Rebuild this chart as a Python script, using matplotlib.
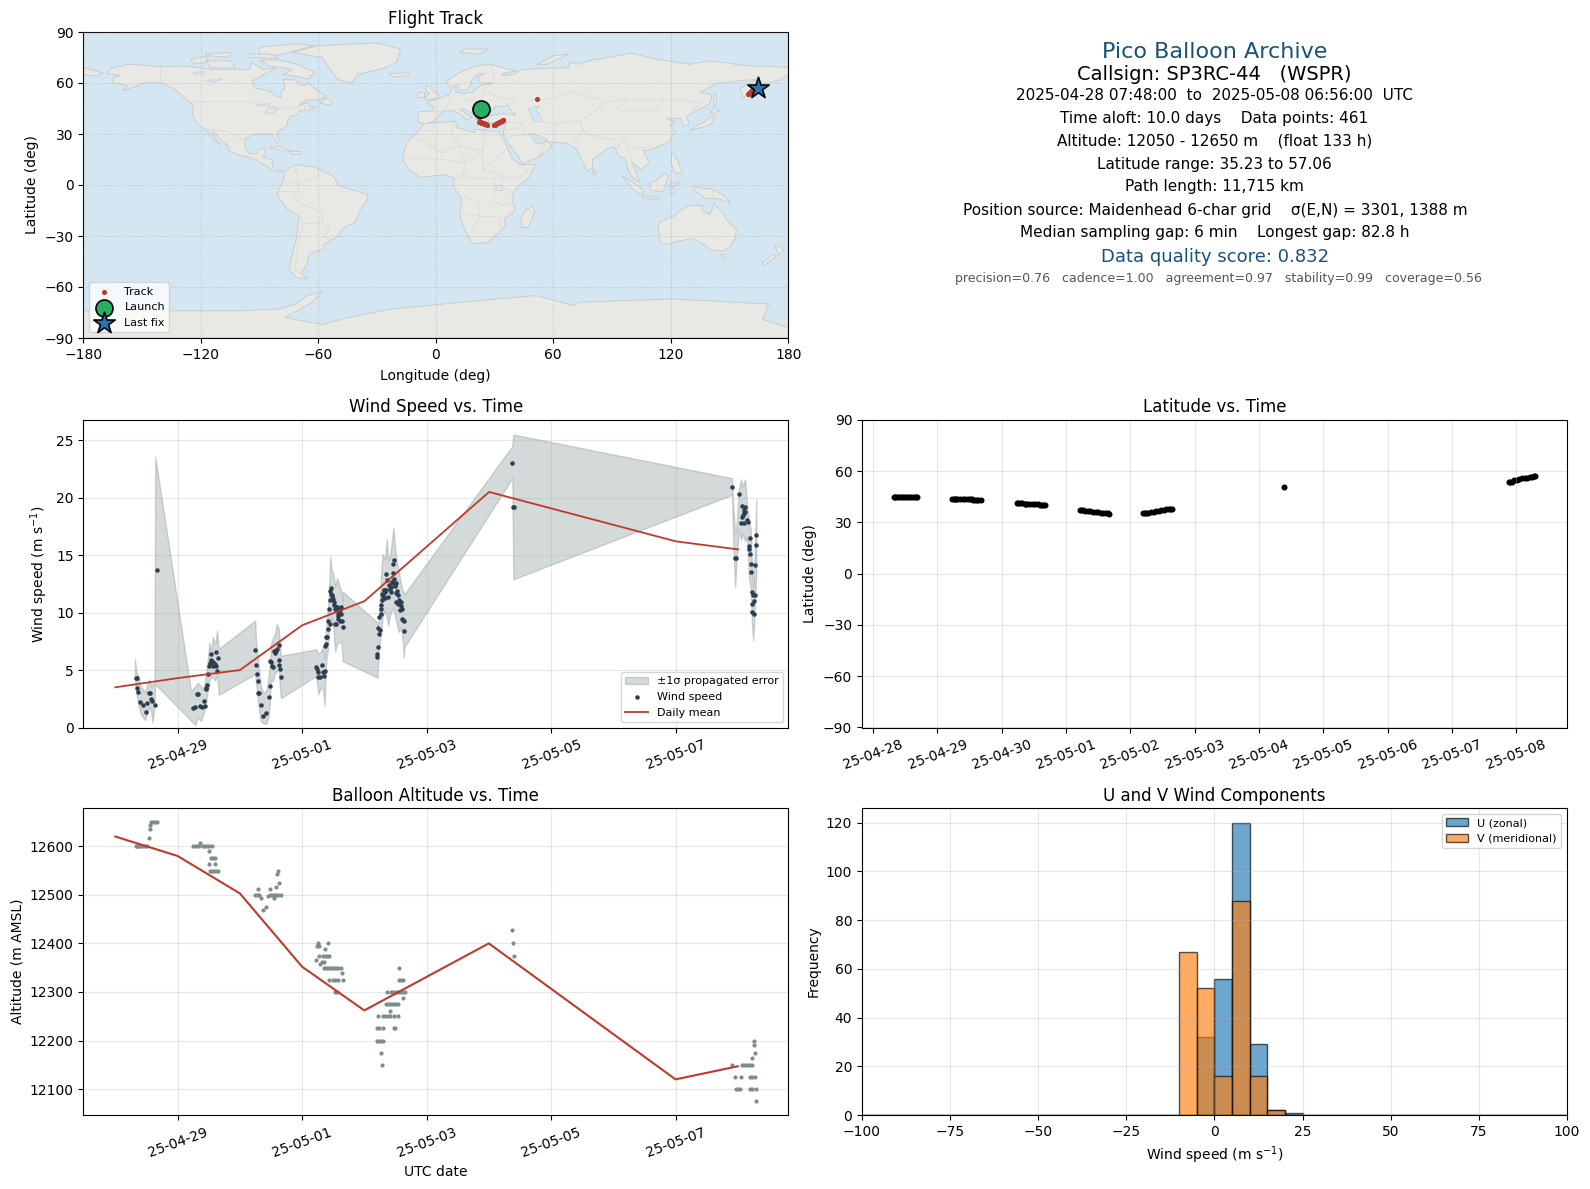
import matplotlib
matplotlib.use('Agg')
import matplotlib.pyplot as plt
import matplotlib.dates as mdates
import numpy as np
from datetime import datetime

# all times are days after 2025-04-28 00:00 UTC
mean_day = [0, 1, 2, 3, 4, 6, 9, 10]
mean_wind = [3.5, 4.3, 5.0, 8.9, 11.0, 20.5, 16.2, 15.5]
mean_alt = [12620, 12580, 12503, 12352, 12262, 12400, 12120, 12147]

wind_day = [0.325, .346, .340, .357, .394, .437, .501, .485, .534, .555, .571, .592, .630, .662,
            1.241, 1.273, 1.306, 1.332, 1.359, 1.391, 1.424, 1.434, 1.456, 1.466, 1.461, 1.488, 1.509,
            1.542, 1.536, 1.552, 1.574, 1.611, 1.617, 1.643, 1.638, 1.595, 1.525, 1.56,
            2.244, 2.260, 2.271, 2.287, 2.298, 2.314, 2.335, 2.378, 2.426, 2.464, 2.480, 2.485, 2.501,
            2.507, 2.528, 2.544, 2.560, 2.582, 2.598, 2.625, 2.635, 2.635, 2.641, 2.657,
            3.214, 3.236, 3.257, 3.247, 3.279, 3.316, 3.332, 3.359, 3.343, 3.370, 3.386, 3.381, 3.391,
            3.408, 3.418, 3.429, 3.440, 3.44, 3.45, 3.466, 3.477, 3.493, 3.515, 3.536, 3.558, 3.579,
            3.617, 3.547, 3.525, 3.601, 3.633, 3.654, 3.574, 3.627, 3.558, 3.46, 3.485, 3.505, 3.53,
            3.59, 3.61, 3.568,
            4.201, 4.201, 4.217, 4.233, 4.223, 4.255, 4.233, 4.271, 4.265, 4.271, 4.287, 4.298, 4.287,
            4.308, 4.324, 4.340, 4.351, 4.362, 4.378, 4.405, 4.432, 4.421, 4.448, 4.458, 4.469, 4.458,
            4.485, 4.512, 4.512, 4.539, 4.512, 4.539, 4.566, 4.592, 4.576, 4.609, 4.598, 4.619, 4.635,
            4.635, 4.30, 4.315, 4.33, 4.39, 4.415, 4.44, 4.47, 4.495, 4.525, 4.55, 4.58,
            6.373, 6.389, 6.405,
            9.895, 9.949, 9.965, 10.008, 10.062, 10.105, 10.099, 10.088, 10.115, 10.072, 10.056, 10.142,
            10.153, 10.088, 10.040, 10.185, 10.282, 10.282, 10.169, 10.169, 10.185, 10.201, 10.265,
            10.201, 10.217, 10.244, 10.265, 10.249, 10.217, 10.228, 10.249]
wind_speed = [4.30, 4.30, 3.48, 3.13, 2.25, 2.0, 2.14, 1.38, 3.04, 3.04, 2.46, 2.32, 1.95, 13.75,
              1.68, 1.82, 2.90, 2.90, 1.85, 1.79, 2.35, 1.91, 3.37, 3.72, 3.48, 4.65, 5.38,
              6.40, 5.88, 5.67, 5.38, 6.55, 5.38, 6.05, 4.94, 5.5, 5.6, 5.7,
              6.75, 5.44, 4.65, 4.04, 2.99, 2.99, 1.94, 0.98, 1.24, 2.67, 3.57, 5.76, 5.67,
              5.38, 5.29, 6.63, 6.49, 6.69, 6.81, 7.19, 5.87, 5.44, 5.09, 4.42,
              5.29, 5.09, 4.86, 4.42, 4.42, 5.44, 4.80, 4.94, 4.45, 7.13, 7.27, 7.86, 7.91,
              8.59, 9.31, 10.34, 9.02, 11.06, 11.9, 12.17, 11.41, 11.21, 10.62, 10.48, 10.19, 9.9,
              10.48, 9.02, 9.02, 9.31, 9.31, 8.73, 9.45, 9.9, 10.48, 11.6, 11.5, 10.9, 10.3,
              10.0, 10.2, 9.7,
              6.11, 6.40, 6.98, 8.15, 8.67, 8.50, 9.61, 9.84, 10.34, 10.63, 11.06, 11.36, 11.65,
              11.94, 11.79, 11.94, 13.40, 12.81, 11.36, 12.08, 12.23, 11.79, 12.67, 13.45, 14.62, 14.21,
              12.52, 12.58, 11.71, 11.5, 10.92, 10.71, 10.83, 10.92, 10.25, 10.34, 9.46, 9.37, 9.26,
              8.38, 11.5, 12.0, 11.3, 12.4, 12.3, 12.7, 12.9, 12.3, 11.9, 11.1, 10.6,
              23.02, 19.23, 19.23,
              20.92, 14.71, 14.71, 20.31, 19.31, 19.17, 18.94, 18.70, 18.79, 18.50, 18.29, 18.06,
              17.92, 17.83, 17.77, 16.46, 16.72, 15.85, 15.79, 15.50, 15.06, 14.27, 14.18,
              13.57, 11.79, 11.50, 11.56, 11.01, 10.77, 10.07, 9.90]

band_day = [.314, .34, .367, .41, .48, .517, .544, .571, .598, .63, .64,
            1.214, 1.284, 1.32, 1.375, 1.413, 1.445, 1.483, 1.509, 1.536, 1.563, 1.606, 1.633, 1.66,
            2.244, 2.26, 2.29, 2.31, 2.335, 2.38, 2.43, 2.46, 2.48, 2.50, 2.53, 2.56, 2.59, 2.625, 2.64, 2.66,
            3.225, 3.26, 3.30, 3.33, 3.36, 3.38, 3.41, 3.43, 3.45, 3.47, 3.5, 3.53, 3.56, 3.6, 3.63, 3.65, 3.655,
            4.20, 4.21, 4.228, 4.265, 4.29, 4.33, 4.357, 4.38, 4.415, 4.464, 4.507, 4.55, 4.587, 4.614, 4.63, 4.64,
            6.373, 6.389,
            9.90, 9.92, 9.95, 9.976, 10.01, 10.045, 10.07, 10.11, 10.14, 10.17, 10.2, 10.22, 10.24, 10.26, 10.289]
band_high = [5.96, 4.8, 4.5, 3.6, 3.05, 3.9, 4.2, 3.6, 3.8, 3.9, 23.6,
             3.2, 3.6, 3.9, 3.6, 3.3, 4.2, 5.96, 7.4, 6.55, 7.86, 7.27, 8.44, 6.84,
             9.31, 7.3, 6.2, 4.7, 3.6, 3.0, 3.3, 4.5, 5.5, 7.3, 7.8, 8.1, 9.0, 8.6, 7.3, 6.25,
             6.8, 6.4, 6.6, 7.0, 6.0, 8.5, 10.2, 12.0, 14.85, 13.8, 13.3, 12.3, 13.0, 12.3, 11.8, 11.0, 11.8,
             9.17, 8.7, 9.3, 13.3, 15.1, 14.65, 16.4, 14.5, 15.1, 17.4, 14.8, 13.6, 12.5, 11.9, 11.75, 11.6,
             24.5, 25.5,
             21.7, 19.2, 16.9, 17.8, 20.8, 21.6, 21.0, 21.6, 19.5, 18.1, 17.2, 14.0, 12.2, 14.6, 19.9]
band_low = [4.36, 2.9, 2.03, 1.15, .63, 1.44, 1.73, 1.44, .42, 2.03, 3.78,
            .6, .22, .86, .57, 1.15, 1.73, 3.19, 4.07, 4.36, 4.36, 4.07, 4.8, 2.84,
            4.65, 3.8, 2.3, 1.4, .55, .35, .35, 1.0, 2.2, 4.2, 4.0, 4.7, 4.9, 5.1, 3.6, 2.55,
            4.5, 2.9, 3.5, 3.4, 1.9, 5.5, 6.7, 8.5, 9.2, 9.6, 8.6, 6.6, 7.3, 7.4, 7.5, 5.76, 5.76,
            4.36, 4.36, 6.7, 8.1, 9.6, 10.2, 9.6, 8.9, 9.9, 10.4, 9.3, 8.3, 8.7, 7.55, 6.1, 7.0,
            21.7, 12.9,
            20.25, 16.0, 12.2, 14.85, 17.2, 16.3, 16.9, 16.2, 16.6, 13.1, 12.2, 9.0, 7.56, 9.6, 13.4]

alt_day = [.325, .340, .362, .383, .41, .437, .469, .501, .534, .55, .56, .576, .603, .63, .662,
           1.241, 1.273, 1.306, 1.338, 1.365, 1.402, 1.434, 1.466, 1.509, 1.547, 1.499, 1.531, 1.563, 1.595,
           1.499, 1.60, 1.52, 1.552, 1.584, 1.617, 1.654,
           2.244, 2.276, 2.308, 2.287, 2.335, 2.378, 2.426, 2.458, 2.485, 2.485, 2.517, 2.55, 2.582, 2.614,
           2.657, 2.544, 2.576, 2.625, 2.592, 2.609,
           3.252, 3.236, 3.268, 3.413, 3.375, 3.268, 3.332, 3.365, 3.397, 3.429, 3.22, 3.284, 3.316, 3.349,
           3.349, 3.381, 3.413, 3.445, 3.477, 3.509, 3.542, 3.584, 3.627, 3.638, 3.44, 3.504, 3.536, 3.574,
           3.654, 3.536, 3.568,
           4.555, 4.555, 4.587, 4.625, 4.357, 4.421, 4.448, 4.485, 4.523, 4.555, 4.587, 4.619, 4.651, 4.614,
           4.351, 4.383, 4.416, 4.448, 4.48, 4.512, 4.544, 4.405, 4.223, 4.308, 4.34, 4.373, 4.405, 4.469,
           4.544, 4.201, 4.233, 4.308, 4.469, 4.496, 4.201, 4.233, 4.265, 4.298, 4.271, 4.282,
           6.373, 6.389, 6.405,
           9.912, 10.07, 10.105, 10.137, 10.169, 10.2, 10.233, 9.96, 10.056, 10.196, 10.223, 10.28,
           9.966, 9.998, 10.03, 10.196, 10.223, 10.297, 10.26, 10.26, 10.28, 10.233, 10.289]
alt_m = [12600, 12600, 12600, 12600, 12600, 12600, 12600, 12600, 12618, 12635, 12643, 12650, 12650, 12650, 12650,
         12600, 12600, 12600, 12600, 12607, 12600, 12600, 12600, 12600, 12600, 12590, 12575, 12575, 12575,
         12563, 12563, 12550, 12550, 12550, 12550, 12550,
         12500, 12500, 12500, 12513, 12493, 12469, 12474, 12497, 12513, 12500, 12500, 12500, 12500, 12500,
         12500, 12493, 12517, 12525, 12542, 12550,
         12400, 12394, 12394, 12400, 12389, 12375, 12375, 12375, 12375, 12375, 12366, 12358, 12362, 12362,
         12350, 12350, 12350, 12350, 12350, 12350, 12350, 12350, 12350, 12338, 12325, 12325, 12325, 12325,
         12325, 12300, 12300,
         12350, 12325, 12325, 12325, 12300, 12300, 12300, 12300, 12300, 12300, 12300, 12300, 12300, 12288,
         12275, 12275, 12275, 12275, 12275, 12275, 12275, 12261, 12250, 12250, 12250, 12250, 12250, 12250,
         12250, 12225, 12225, 12225, 12225, 12225, 12200, 12200, 12200, 12200, 12175, 12150,
         12427, 12400, 12375,
         12150, 12150, 12150, 12150, 12150, 12150, 12150, 12125, 12125, 12125, 12125, 12125,
         12100, 12100, 12100, 12100, 12100, 12100, 12200, 12190, 12175, 12163, 12075]

lat_day = [.325, .345, .36, .39, .42, .45, .48, .51, .54, .57, .60, .63, .66, .687,
           1.23, 1.25, 1.27, 1.29, 1.31, 1.35, 1.39, 1.43, 1.47, 1.51, 1.53, 1.55, 1.59, 1.61, 1.63, 1.67,
           2.24, 2.26, 2.28, 2.32, 2.36, 2.38, 2.40, 2.44, 2.48, 2.52, 2.56, 2.60, 2.62, 2.64, 2.68,
           3.22, 3.24, 3.26, 3.30, 3.34, 3.38, 3.42, 3.46, 3.50, 3.54, 3.58, 3.62, 3.65, 3.67,
           4.20, 4.22, 4.24, 4.28, 4.32, 4.36, 4.40, 4.44, 4.48, 4.52, 4.56, 4.60, 4.62, 4.64,
           6.39,
           9.89, 9.91, 9.93, 9.97, 10.01, 10.05, 10.09, 10.13, 10.17, 10.21, 10.25, 10.27, 10.289]
lat_deg = [44.8, 44.8, 44.8, 44.8, 44.8, 44.85, 44.85, 44.8, 44.8, 44.8, 44.8, 44.8, 44.75, 44.75,
           43.6, 43.6, 43.6, 43.6, 43.6, 43.6, 43.65, 43.65, 43.6, 43.55, 43.5, 43.4, 43.2, 43.1, 43.05, 43.0,
           41.5, 41.5, 41.5, 41.4, 41.1, 41.05, 41.0, 40.95, 40.9, 40.8, 40.7, 40.5, 40.4, 40.25, 40.1,
           37.1, 37.1, 37.05, 36.9, 36.7, 36.5, 36.3, 36.2, 36.0, 35.8, 35.6, 35.4, 35.3, 35.23,
           35.3, 35.4, 35.5, 35.8, 36.1, 36.4, 36.7, 36.9, 37.1, 37.4, 37.7, 37.9, 38.0, 38.1,
           50.7,
           53.7, 53.8, 53.9, 54.6, 55.0, 55.4, 55.8, 56.0, 56.3, 56.6, 56.9, 57.0, 57.06]
lat_lon = [23.1, 23.05, 23.0, 22.9, 22.9, 22.8, 22.8, 22.7, 22.7, 22.7, 22.6, 22.6, 22.6, 22.5,
           23.2, 23.2, 23.2, 23.15, 23.1, 23.1, 23.0, 23.0, 23.0, 22.9, 22.9, 22.9, 22.8, 22.8, 22.8, 22.7,
           21.2, 21.25, 21.3, 21.4, 21.5, 21.55, 21.6, 21.6, 21.7, 21.8, 21.9, 21.9, 21.95, 22.0, 22.1,
           22.3, 22.45, 22.6, 23.0, 23.3, 23.7, 24.0, 24.4, 24.8, 25.1, 25.5, 25.9, 26.0, 26.2,
           29.5, 29.8, 30.0, 30.5, 30.9, 31.4, 31.8, 32.3, 32.7, 33.1, 33.6, 34.0, 34.2, 34.5,
           51.7,
           159.5, 159.7, 159.9, 160.4, 160.8, 161.3, 161.7, 162.2, 162.6, 163.1, 163.6, 164.0, 164.3]

hist_edges = list(range(-100, 105, 5))
hist_left = [-10, -5, 0, 5, 10, 15, 20]
u_counts = [0, 32, 56, 120, 29, 2, 1]
v_counts = [67, 52, 16, 88, 16, 2, 0]

wind_ticks = ['2025-04-29', '2025-05-01', '2025-05-03', '2025-05-05', '2025-05-07']
lat_ticks = ['2025-04-28', '2025-04-29', '2025-04-30', '2025-05-01', '2025-05-02', '2025-05-03',
             '2025-05-04', '2025-05-05', '2025-05-06', '2025-05-07', '2025-05-08']

land = [
    # north america
    [(-166, 68.5), (-157, 71), (-141, 69.7), (-128, 70), (-115, 68), (-108, 68), (-95, 68), (-94, 72), (-88, 68),
     (-82, 69), (-86, 66), (-94, 61), (-92.5, 57), (-85, 55.3), (-82, 52.5), (-79, 51.5), (-79, 55), (-77, 57),
     (-78, 62), (-72, 61.8), (-68, 58.5), (-65, 60), (-61, 56), (-56, 52.5), (-60, 50), (-66, 50), (-70, 47),
     (-65, 48.5), (-64, 46), (-61, 46), (-65, 44), (-70, 43.5), (-70, 41.5), (-74, 40.5), (-76, 37), (-75.5, 35),
     (-81, 31.5), (-80, 26), (-81, 25), (-82.7, 28), (-84, 30), (-89, 30), (-94, 29.5), (-97.5, 27), (-97.5, 22),
     (-95, 18.5), (-91, 18.5), (-90.5, 21), (-87, 21.5), (-88, 16), (-83.5, 15), (-83.5, 11), (-81, 9),
     (-77.5, 8.5), (-79.5, 7.5), (-83, 8.5), (-86, 11), (-91, 14), (-95, 16), (-102, 18), (-105.5, 20), (-106, 23),
     (-109, 25.5), (-112.5, 30), (-114.7, 31.5), (-113, 28), (-110, 23.5), (-112, 25), (-115, 29), (-117, 32.5),
     (-120.5, 34.5), (-124, 40), (-124, 47), (-128, 51), (-133, 56), (-140, 60), (-148, 60.5), (-153, 58),
     (-160, 55.5), (-157, 58.5), (-165, 60), (-165, 63), (-161, 64.5), (-168, 65.5)],
    [(-80, 73.5), (-72, 71.5), (-62, 66.5), (-65, 62.5), (-72, 64), (-78, 65), (-73, 68), (-85, 70), (-90, 73.5)],
    [(-117, 73), (-105, 73), (-102, 69), (-115, 69)],
    [(-125, 74), (-116, 76), (-118, 72), (-124, 71.5)],
    [(-90, 77), (-80, 76.5), (-62, 82), (-72, 83), (-90, 81)],
    [(-95, 75), (-80, 74.5), (-85, 77), (-95, 77)],
    [(-115, 76), (-105, 75), (-105, 78), (-118, 77)],
    [(-59, 48), (-53, 47), (-53.5, 49.5), (-56, 51.5)],
    # greenland, iceland, caribbean
    [(-73, 78), (-60, 82), (-30, 83.5), (-18, 80), (-20, 72), (-27, 68.5), (-40, 65), (-43, 60), (-50, 62),
     (-54, 68), (-58, 75)],
    [(-24, 65.5), (-14, 66), (-14, 64.5), (-19, 63.5), (-22, 64)],
    [(-85, 22), (-80, 23), (-74, 20), (-77, 20)],
    [(-74, 19.7), (-69, 19.7), (-68.5, 18.3), (-74, 18)],
    # south america
    [(-77, 8), (-72, 12), (-62, 10.5), (-52, 5), (-50, 0), (-44, -2.5), (-35, -5.5), (-35, -9), (-39, -15),
     (-41, -22), (-48, -26), (-50, -30), (-57, -35), (-57, -38), (-62, -39), (-65, -42), (-66, -47), (-69, -52),
     (-65, -55), (-71, -54.5), (-75, -50), (-73, -40), (-71, -30), (-70, -18), (-76, -14), (-81, -6), (-80, -2),
     (-78, 2)],
    # eurasia
    [(-9, 37), (-9, 43), (-2, 43.5), (-1, 46), (-4.5, 48.5), (2, 51), (7, 53.5), (8.5, 57), (10.5, 57.5),
     (10, 54.5), (14, 54), (19, 54.5), (21, 57), (24, 59), (30, 60), (23, 60), (21, 63), (25, 65.5), (22, 65.5),
     (17.5, 61), (18.5, 59.5), (16, 56), (13, 55.5), (11, 59), (7, 58), (5, 61), (12, 66), (20, 70), (28, 71),
     (41, 67), (35, 66), (34, 64.5), (40, 65), (44, 68), (54, 68.5), (68, 69), (68, 72.5), (73, 71), (75, 72),
     (80, 73.5), (100, 77.5), (113, 74), (130, 71), (140, 73), (160, 70), (170, 70), (180, 69), (180, 65),
     (177, 62.5), (170, 60), (163, 60), (162, 56), (157, 51), (155.5, 57), (164, 62), (156, 61.5), (143, 59.5),
     (135, 54.5), (141, 53), (140, 48), (132, 43), (128, 40), (129.5, 36), (126.5, 34.5), (125, 39.5), (121, 39),
     (118, 39), (122, 37), (119.5, 35), (122, 31), (119, 25), (110, 21), (106, 20), (109, 13), (105, 9),
     (100, 13.5), (103, 5), (104, 1.5), (100, 5), (98, 9), (97, 16), (94, 16), (91, 22.5), (87, 21), (80, 15),
     (80, 10), (77.5, 8), (73, 18), (72, 21), (67, 24.5), (57, 25.5), (56.5, 27), (50, 30), (48, 30), (51, 25),
     (54, 24), (56.5, 26), (59.5, 22.5), (52, 16), (44, 12.5), (42.5, 16), (35, 28), (34.5, 31.5), (36, 36.5),
     (30, 36.5), (27, 37), (26.5, 40), (29, 41), (35, 42), (41, 41), (38, 44.5), (37, 47), (33, 46), (31, 46.5),
     (28, 43), (28.5, 41), (24, 40.5), (23, 38), (22.5, 36.5), (20, 39.5), (19, 42), (14, 45), (12.5, 44.5),
     (16, 41.5), (18.5, 40), (16, 38), (12, 42), (8.5, 44), (3, 43), (0, 39), (-2, 37), (-5.5, 36)],
    [(-180, 69), (-170, 66), (-173, 64), (-180, 65)],
    [(-5.5, 50), (1.5, 51), (1.5, 53), (-2, 56), (-2, 58), (-5, 58.5), (-5, 55), (-3, 54), (-5, 52)],
    [(-10, 52), (-6, 52), (-6, 55), (-9, 55)],
    [(52, 71), (57, 71), (68, 77), (60, 76)],
    [(12, 78), (22, 77), (27, 80), (15, 80)],
    [(142, 46), (143.5, 49), (143, 54), (142, 53)],
    [(130, 32), (132, 34.5), (137, 37), (140, 40), (141.5, 41), (142, 39), (140.5, 35.5), (136, 34), (132, 33)],
    [(140, 42), (145, 43.5), (142, 45.5)],
    [(120.5, 18.5), (122, 18), (124, 13), (126, 7), (122, 7), (120, 14)],
    [(109, 1), (113, 3), (117, 7), (119, 5), (117.5, 1), (116, -4), (110, -3)],
    [(95, 5.5), (100, 2), (106, -3), (105.5, -6), (101, -3)],
    [(105.5, -6.5), (114, -7), (114.5, -8.5), (106, -7.8)],
    [(119.5, -5), (120, 1), (125, 1.5), (121, -1), (122, -5)],
    [(131, -1), (141, -2.5), (147, -6), (150.5, -10.5), (144, -8), (138, -8), (133, -4)],
    [(80, 9.5), (82, 7), (80.5, 6)],
    # australia and around
    [(114, -22), (122, -18), (126, -14), (130, -12), (136, -12), (136, -15), (140, -17.5), (142, -11),
     (145.5, -15), (149, -21), (153.5, -26), (153, -31), (150, -37), (146, -39), (140, -38), (137, -35),
     (131, -31.5), (124, -33), (118, -35), (115, -34), (113.5, -26)],
    [(145, -41), (148, -41), (147, -43.5)],
    [(173, -35), (178, -38), (175, -41.5)],
    [(172, -41), (174, -42), (168, -47), (166.5, -46)],
    # africa
    [(-6, 36), (10, 37.5), (11, 33.5), (20, 31), (20, 33), (25, 32), (32, 31.5), (34, 28), (37, 21), (39, 15.5),
     (43, 12), (51, 12), (47, 4), (40, -3), (39, -8), (40.5, -15), (35, -20), (35.5, -24), (32.5, -28), (26, -34),
     (19, -34.5), (15, -27), (12, -17), (13.5, -9), (9, -1), (9.5, 4), (5, 6), (-4, 5), (-8, 4.5), (-13, 8.5),
     (-17, 14.5), (-16, 21), (-13, 27.5), (-9.5, 31)],
    [(49.5, -12), (50.5, -16), (47, -25), (44, -25), (43.5, -20), (45, -16)],
    # antarctica
    [(-180, -74), (-130, -74), (-100, -74), (-80, -73), (-71.5, -70), (-65.5, -65), (-58, -63), (-63, -69),
     (-77, -78), (-58, -82), (-45, -78), (-23, -73), (13, -69), (51, -65), (71, -71), (73, -69), (121, -67),
     (170, -70), (167, -79), (180, -84), (180, -90), (-180, -90)],
]
lakes = [
    [(47, 45), (53, 46.5), (51, 44), (54, 40), (54, 37), (50, 37.5), (49, 40.5)],
    [(-92, 47), (-85, 48), (-85, 46.5), (-90, 46.5)],
    [(-87.5, 42), (-85, 46), (-80, 45.5), (-82, 43), (-86, 42)],
    [(-124, 66), (-118, 67), (-118, 65), (-123, 65)],
    [(-117, 61.5), (-109, 62.5), (-113, 60.5)],
    [(30, 0), (34, 0), (34, -3), (31, -3)],
]
borders = [
    [(-141, 69.7), (-141, 60)],
    [(-124, 49), (-95, 49), (-84, 46), (-75, 45), (-67, 47), (-67, 45)],
    [(-117, 32.5), (-106, 31.5), (-97.5, 26)],
    [(-92, 14.5), (-89, 17.5)],
    [(-72, 12), (-70, 1), (-70, -4), (-74, -7), (-69, -11), (-58, -16), (-58, -22), (-54, -26), (-57, -30), (-53, -33)],
    [(-78, 2), (-70, 1), (-67, 2), (-60, 5), (-60, 8)],
    [(-81, -3.5), (-70, -4)],
    [(-70, -18), (-68, -23), (-71, -40), (-72, -50), (-69, -52)],
    [(-68, -23), (-58, -22)],
    [(-9, 32), (-2, 32), (-1, 35)],
    [(9, 37), (8, 30), (12, 23), (24, 20), (25, 32)],
    [(-13, 27.5), (-8, 27), (3, 19), (12, 23), (15, 13), (24, 20), (24, 9), (37, 22)],
    [(-16, 16), (4, 15), (15, 13), (14, 6), (9.5, 4)],
    [(24, 9), (34, 5), (42, 4), (47, 8), (43, 12)],
    [(14, 6), (18, 4), (30, 4), (34, 5), (34, -1), (39, -5)],
    [(12, -6), (22, -10), (22, -18), (12, -17)],
    [(30, 4), (30, -10), (34, -12), (40, -11)],
    [(22, -18), (33, -18), (33, -26)],
    [(17, -28), (20, -25), (22, -18)],
    [(-2, 43), (3, 43), (8, 49), (6, 51), (7, 53.5)],
    [(14, 54), (15, 50), (24, 50), (24, 54)],
    [(24, 50), (22, 48), (28, 45), (30, 46)],
    [(28, 59), (24, 56), (32, 52), (40, 50), (38, 47)],
    [(28, 70), (30, 62), (28, 59)],
    [(48, 50), (61, 51), (70, 55), (87, 49), (98, 50), (117, 50), (127, 50), (135, 48), (131, 43)],
    [(87, 49), (80, 42), (74, 38), (62, 36), (54, 37)],
    [(98, 50), (92, 44), (111, 44), (117, 50)],
    [(74, 38), (75, 32), (70, 24.5)],
    [(62, 36), (61, 29), (62, 25)],
    [(44, 37), (46, 30), (48, 30)],
    [(36, 32), (42, 33), (44, 37), (36, 36.5)],
    [(75, 32), (80, 29), (88, 27), (97, 28), (92, 21)],
    [(97, 28), (98, 22), (106, 22), (106, 20)],
    [(98, 22), (100, 14)],
    [(35, 28), (48, 30), (56, 24), (52, 16)],
    [(141, -3), (141, -9)],
]

text_lines = [
    ('Pico Balloon Archive', 16, '#1a5276'),
    ('Callsign: SP3RC-44   (WSPR)', 14, 'black'),
    ('2025-04-28 07:48:00  to  2025-05-08 06:56:00  UTC', 11, 'black'),
    ('Time aloft: 10.0 days    Data points: 461', 11, 'black'),
    ('Altitude: 12050 - 12650 m    (float 133 h)', 11, 'black'),
    ('Latitude range: 35.23 to 57.06', 11, 'black'),
    ('Path length: 11,715 km', 11, 'black'),
    ('Position source: Maidenhead 6-char grid    σ(E,N) = 3301, 1388 m', 11, 'black'),
    ('Median sampling gap: 6 min    Longest gap: 82.8 h', 11, 'black'),
    ('Data quality score: 0.832', 13, '#1a5276'),
    ('precision=0.76   cadence=1.00   agreement=0.97   stability=0.99   coverage=0.56', 9, '#555555'),
]
text_y = [52, 74.5, 96, 119, 141.5, 164, 187, 210, 233, 257.5, 278.5]
text_x = [1215, 1214, 1215, 1214, 1215, 1214, 1214, 1215, 1215, 1215, 1218]

W, H = 1590, 1189
RED = '#c0392b'


def to_num(days):
    return mdates.date2num(datetime(2025, 4, 28)) + np.array(days, dtype=float)


def make_axes(left, right, top, bottom):
    return fig.add_axes([left / W, 1 - bottom / H, (right - left) / W, (bottom - top) / H])


def set_date_ticks(ax, ticks):
    ax.set_xticks([mdates.datestr2num(t) for t in ticks])
    ax.xaxis.set_major_formatter(mdates.DateFormatter('%y-%m-%d'))
    ax.tick_params(axis='x', labelrotation=20)


fig = plt.figure(figsize=(W / 100, H / 100), dpi=100)

ax_map = make_axes(83.3, 788.3, 32, 338)
ax_info = make_axes(862, 1566.8, 32, 338)
ax_wind = make_axes(83.3, 788.3, 420, 727.5)
ax_lat = make_axes(862, 1566.8, 420, 727.5)
ax_alt = make_axes(83.3, 788.3, 808, 1115.2)
ax_hist = make_axes(862, 1566.8, 808, 1115.2)

# map
ax_map.set_facecolor('#d4e6f1')
for poly in land:
    ax_map.fill(*zip(*poly), facecolor='#e8e8e4', edgecolor='#c6caca', linewidth=0.6, zorder=1)
for poly in lakes:
    ax_map.fill(*zip(*poly), facecolor='#d4e6f1', edgecolor='#c6caca', linewidth=0.4, zorder=1.1)
for line in borders:
    ax_map.plot(*zip(*line), color='#dadad6', linewidth=0.6, zorder=1.2)
ax_map.scatter(lat_lon, lat_deg, s=7, color=RED, label='Track', zorder=3)
ax_map.scatter(lat_lon[0], lat_deg[0], s=150, color='#27ae60', edgecolor='black', linewidth=1.2, label='Launch', zorder=4)
ax_map.scatter(lat_lon[-1], lat_deg[-1], s=260, marker='*', color='#1f77b4', edgecolor='black', linewidth=1.2,
               label='Last fix', zorder=5)
ax_map.set_xlim(-180, 180)
ax_map.set_ylim(-90, 90)
ax_map.set_xticks(range(-180, 181, 60))
ax_map.set_yticks(range(-90, 91, 30))
ax_map.grid(alpha=0.35, color='gray', linestyle='--', linewidth=0.4, zorder=2)
ax_map.set_axisbelow(False)
ax_map.set_title('Flight Track')
ax_map.set_xlabel('Longitude (deg)', labelpad=5)
ax_map.set_ylabel('Latitude (deg)')
ax_map.legend(loc='lower left', fontsize=8)

# text panel
ax_info.axis('off')
for (txt, size, col), x, y in zip(text_lines, text_x, text_y):
    fig.text(x / W, 1 - y / H, txt, fontsize=size, color=col, ha='center', va='center')

# wind
ax_wind.fill_between(to_num(band_day), band_low, band_high, color='#7f8c8d', alpha=0.33, label='±1σ propagated error')
ax_wind.scatter(to_num(wind_day), wind_speed, s=5, color='#2c3e50', label='Wind speed', zorder=3)
ax_wind.plot(to_num(mean_day), mean_wind, color=RED, linewidth=1.3, label='Daily mean', zorder=4)
ax_wind.set_ylim(bottom=0)
set_date_ticks(ax_wind, wind_ticks)
ax_wind.grid(alpha=0.3)
ax_wind.set_title('Wind Speed vs. Time')
ax_wind.set_ylabel('Wind speed (m s$^{-1}$)')
ax_wind.legend(loc='lower right', fontsize=8)

# latitude
ax_lat.scatter(to_num(lat_day), lat_deg, s=11, color='black')
ax_lat.set_ylim(-90, 90)
ax_lat.set_yticks(range(-90, 91, 30))
set_date_ticks(ax_lat, lat_ticks)
ax_lat.grid(alpha=0.3)
ax_lat.set_title('Latitude vs. Time')
ax_lat.set_ylabel('Latitude (deg)')

# altitude
ax_alt.scatter(to_num(alt_day), alt_m, s=4, color='#7f8c8d', zorder=3)
ax_alt.plot(to_num(mean_day), mean_alt, color=RED, linewidth=1.5, zorder=4)
set_date_ticks(ax_alt, wind_ticks)
ax_alt.grid(alpha=0.3)
ax_alt.set_title('Balloon Altitude vs. Time', pad=5)
ax_alt.set_xlabel('UTC date')
ax_alt.set_ylabel('Altitude (m AMSL)')

# wind components
ax_hist.hist(hist_left, bins=hist_edges, weights=u_counts, alpha=0.65, edgecolor='black', color='C0', label='U (zonal)')
ax_hist.hist(hist_left, bins=hist_edges, weights=v_counts, alpha=0.65, edgecolor='black', color='C1', label='V (meridional)')
ax_hist.set_xlim(-100, 100)
ax_hist.grid(alpha=0.3)
ax_hist.set_title('U and V Wind Components', pad=5)
ax_hist.set_xlabel('Wind speed (m s$^{-1}$)')
ax_hist.set_ylabel('Frequency')
ax_hist.legend(loc='upper right', fontsize=8)

fig.savefig('out.png', dpi=100)
